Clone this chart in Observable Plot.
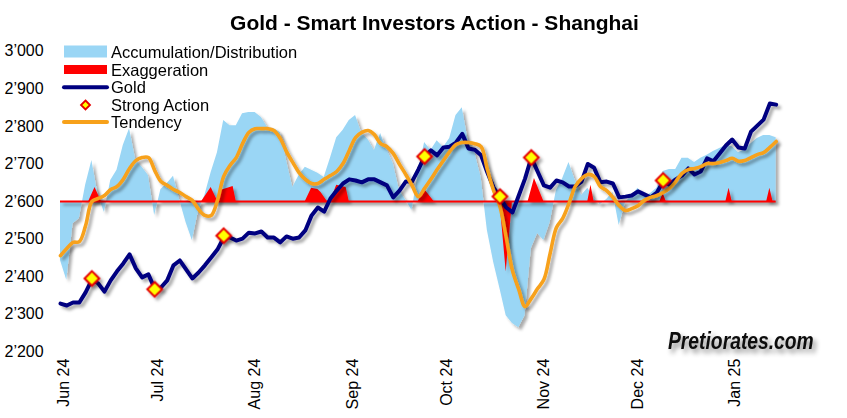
<!DOCTYPE html>
<html><head><meta charset="utf-8">
<script src="https://cdn.jsdelivr.net/npm/d3@7"></script>
<script src="https://cdn.jsdelivr.net/npm/@observablehq/plot@0.6"></script>
<style>
body{margin:0;background:#fff;font-family:"Liberation Sans",Arial,sans-serif;}
#wrap{position:relative;width:847px;height:418px;overflow:hidden;}
#wrap svg{position:absolute;left:0;top:0;}
</style></head><body><div id="wrap"></div>
<script>
// ---- data ----
const title = "Gold - Smart Investors Action - Shanghai";
const watermark = "Pretiorates.com";
const startDate = "2024-05-31";   // first sample, one sample every 2 days
const stepDays = 2;
const gold = [
2328,2323,2331,2331,2358,2392,2382,2360,2390,2414,
2435,2459,2422,2398,2406,2368,2371,2390,2430,2443,
2419,2395,2411,2430,2451,2472,2504,2504,2496,2501,
2517,2515,2520,2504,2504,2491,2507,2501,2504,2523,
2563,2584,2573,2608,2629,2648,2659,2656,2651,2659,
2659,2651,2643,2611,2629,2653,2653,2685,2720,2736,
2723,2744,2746,2757,2780,2741,2738,2723,2677,2637,
2611,2584,2571,2616,2661,2717,2680,2643,2637,2656,
2651,2640,2640,2653,2700,2690,2651,2653,2648,2611,
2613,2616,2627,2619,2611,2624,2653,2645,2659,2669,
2688,2672,2680,2715,2707,2728,2749,2765,2744,2741,
2786,2802,2818,2861,2858];
const tendency = [
2456,2475,2491,2493,2536,2600,2608,2616,2632,2640,
2659,2688,2709,2717,2717,2683,2653,2643,2632,2624,
2613,2603,2579,2563,2563,2603,2667,2696,2717,2754,
2784,2794,2794,2794,2789,2768,2733,2704,2677,2659,
2648,2648,2659,2669,2680,2701,2736,2770,2784,2789,
2778,2754,2746,2728,2699,2672,2643,2613,2635,2659,
2685,2709,2733,2752,2757,2757,2754,2746,2685,2629,
2587,2504,2416,2366,2320,2342,2368,2392,2462,2531,
2555,2595,2640,2661,2672,2667,2640,2629,2611,2589,
2576,2581,2589,2603,2611,2616,2624,2635,2653,2675,
2685,2688,2693,2701,2701,2704,2709,2715,2707,2709,
2717,2725,2730,2744,2760];
const accDist = [
2443,2390,2541,2555,2643,2709,2616,2571,2656,2683,
2749,2794,2709,2691,2669,2563,2632,2648,2667,2603,
2544,2496,2576,2616,2677,2730,2816,2802,2802,2834,
2837,2837,2824,2797,2794,2784,2709,2637,2669,2691,
2683,2675,2664,2715,2770,2789,2816,2829,2781,2765,
2736,2781,2738,2701,2629,2603,2576,2677,2757,2736,
2762,2744,2768,2829,2850,2757,2730,2664,2523,2438,
2368,2296,2275,2264,2296,2475,2515,2496,2544,2629,
2661,2704,2656,2616,2635,2608,2592,2605,2624,2536,
2597,2616,2635,2613,2621,2635,2680,2685,2685,2715,
2715,2704,2715,2723,2733,2741,2749,2746,2730,2738,
2754,2768,2776,2776,2770];
const exagDates = [
"2024-06-09","2024-06-11","2024-06-13",
"2024-07-15","2024-07-18","2024-07-20","2024-07-21","2024-07-25","2024-07-26",
"2024-08-17","2024-08-19","2024-08-21","2024-08-22","2024-08-24",
"2024-08-25","2024-08-27","2024-08-30","2024-08-31",
"2024-09-22","2024-09-24","2024-09-27",
"2024-10-18","2024-10-20","2024-10-22",
"2024-10-27","2024-10-29","2024-11-01",
"2024-11-15","2024-11-16","2024-11-17",
"2024-12-08","2024-12-09","2024-12-10",
"2024-12-29","2024-12-30","2024-12-31",
"2025-01-11","2025-01-12","2025-01-13"];
const exagValues = [
2600,2637,2600,
2600,2637,2602,2629,2640,2600,
2600,2635,2632,2624,2600,
2600,2643,2637,2600,
2600,2632,2600,
2600,2412,2600,
2600,2661,2600,
2600,2643,2600,
2600,2621,2600,
2600,2635,2600,
2600,2635,2600];
const actionDates = ["2024-06-10","2024-06-30","2024-07-22","2024-09-24","2024-10-18","2024-10-28","2024-12-09"];
const actionValues = [2395,2366,2509,2720,2613,2717,2656];
const baseline = 2600;
const yTicks = [2200,2300,2400,2500,2600,2700,2800,2900,3000];
const monthTicks = ["2024-06-01","2024-07-01","2024-08-01","2024-09-01","2024-10-01","2024-11-01","2024-12-01","2025-01-01"];
const xDomain = ["2024-05-31","2025-01-31"];
const legendLabels = ["Accumulation/Distribution","Exaggeration","Gold","Strong Action","Tendency"];

// ---- build tables ----
const C = {ad:"#9ad6f5", red:"#ff0000", gold:"#000080", tend:"#f7a11a", diamond:"#ffff00", dstroke:"#e60000"};
const t0 = new Date(startDate);
const dateAt = i => d3.utcDay.offset(t0, i * stepDays);
const goldData = gold.map((v,i)=>({date:dateAt(i), v}));
const tendData = tendency.map((v,i)=>({date:dateAt(i), v}));
const adData = accDist.map((v,i)=>({date:dateAt(i), v}));
const exData = exagDates.map((d,i)=>({date:new Date(d), v:exagValues[i]}));
const actData = actionDates.map((d,i)=>({date:new Date(d), v:actionValues[i]}));
const ruleData = [{x1:dateAt(0), x2:dateAt(gold.length-1), y:baseline}];
const fmt = d => d3.format(",")(d).replace(",", "\u2019");

const chart = Plot.plot({
  width: 847, height: 418,
  marginLeft: 60, marginRight: 18, marginTop: 50.8, marginBottom: 66.8,
  style: {fontFamily: "'Liberation Sans', Arial, sans-serif", fontSize: "16px", color: "#000", background: "transparent", overflow: "visible"},
  x: {type: "utc", domain: xDomain.map(d=>new Date(d))},
  y: {domain: [2200, 3000]},
  marks: [
    Plot.areaY(adData, {x:"date", y1: baseline, y2:"v", fill:C.ad}),
    Plot.areaY(exData, {x:"date", y1: baseline, y2:"v", fill:C.red}),
    Plot.ruleY(ruleData, {x1:"x1", x2:"x2", y:"y", stroke:C.red, strokeWidth:2.2}),
    Plot.line(goldData, {x:"date", y:"v", stroke:C.gold, strokeWidth:4, strokeLinejoin:"round", strokeLinecap:"round"}),
    Plot.line(tendData, {x:"date", y:"v", stroke:C.tend, strokeWidth:3.6, curve:"catmull-rom", strokeLinejoin:"round"}),
    Plot.dot(actData, {x:"date", y:"v", symbol:"diamond2", r:6.6, fill:C.diamond, stroke:C.dstroke, strokeWidth:2}),
    Plot.axisY({ticks: yTicks, tickSize:0, tickPadding:0, tickFormat: fmt, textAnchor:"start", dx:-56, fontSize:16}),
    Plot.axisX({ticks: monthTicks.map(d=>new Date(d)), tickSize:0, tickPadding:7, tickRotate:-90, tickFormat: d3.utcFormat("%b %y"), fontSize:16})
  ]
});

// drop shadow (Excel-like); user-space region so the flat rule is not dropped
const defs = d3.select(chart).insert("defs", ":first-child");
defs.html('<filter id="ds" filterUnits="userSpaceOnUse" x="0" y="0" width="847" height="418"><feDropShadow dx="3" dy="3" stdDeviation="1.6" flood-color="#000" flood-opacity="0.33"/></filter>');
chart.querySelectorAll('g[aria-label="area"], g[aria-label="line"], g[aria-label="dot"], g[aria-label="rule"]').forEach(g=>g.setAttribute("filter","url(#ds)"));

document.getElementById("wrap").appendChild(chart);

// ---- overlay: title, legend, watermark ----
const ov = d3.create("svg").attr("width",847).attr("height",418)
  .style("font-family","'Liberation Sans', Arial, sans-serif").style("pointer-events","none");
ov.append("defs").html('<filter id="ws" filterUnits="userSpaceOnUse" x="600" y="300" width="247" height="90"><feDropShadow dx="3" dy="4" stdDeviation="2.5" flood-color="#000" flood-opacity="0.45"/></filter>');
ov.append("text").attr("x",434.5).attr("y",29.5).attr("text-anchor","middle")
  .attr("font-weight","bold").attr("font-size",21).attr("fill","#000").text(title);

const rows = [51.5, 69.5, 87.3, 105, 122];
const lg = ov.append("g");
lg.append("rect").attr("x",64).attr("y",45.5).attr("width",43).attr("height",12).attr("fill",C.ad);
lg.append("rect").attr("x",64).attr("y",65).attr("width",43).attr("height",9).attr("fill",C.red);
lg.append("line").attr("x1",64).attr("x2",107).attr("y1",rows[2]).attr("y2",rows[2]).attr("stroke",C.gold).attr("stroke-width",4).attr("stroke-linecap","round");
lg.append("path").attr("d",`M85.5,${rows[3]-4.5}L90,${rows[3]}L85.5,${rows[3]+4.5}L81,${rows[3]}Z`).attr("fill",C.diamond).attr("stroke",C.dstroke).attr("stroke-width",1.8);
lg.append("line").attr("x1",64).attr("x2",107).attr("y1",rows[4]).attr("y2",rows[4]).attr("stroke",C.tend).attr("stroke-width",4).attr("stroke-linecap","round");
legendLabels.forEach((s,i)=>{
  lg.append("text").attr("x",111).attr("y",rows[i]+6).attr("font-size",16.5).attr("fill","#000").text(s);
});
ov.append("g").attr("filter","url(#ws)")
  .append("text").attr("transform","translate(668,349) scale(1,1.25)")
  .attr("font-size",19.3).attr("font-weight","bold").attr("font-style","italic")
  .attr("fill","#111").text(watermark);
document.getElementById("wrap").appendChild(ov.node());
</script></body></html>
